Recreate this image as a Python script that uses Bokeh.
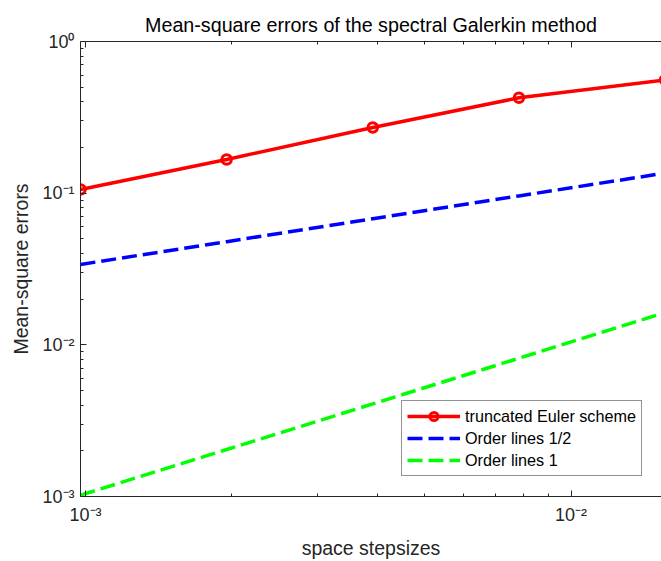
from bokeh.plotting import figure
from bokeh.models import Range1d, LogAxis, FixedTicker, CustomJSTickFormatter, Legend, LegendItem
from bokeh.embed import file_html
from bokeh.resources import INLINE

# ---- data ----
h = [0.0009765625, 0.001953125, 0.00390625, 0.0078125, 0.015625]   # space stepsizes
err_euler = [0.1057, 0.1667, 0.271, 0.4255, 0.558]                 # truncated Euler scheme
order_half = [0.0339, 0.0479, 0.0678, 0.0959, 0.1356]              # order lines 1/2
order_one = [0.00102, 0.00204, 0.00408, 0.00816, 0.01632]          # order lines 1

x_major = [0.001, 0.01]
y_major = [0.001, 0.01, 0.1, 1.0]
x_start, x_end = 0.0009765625, 0.01536
y_start, y_end = 0.001, 1.0

title_text = "Mean-square errors of the spectral Galerkin method"
xlabel = "space stepsizes"
ylabel = "Mean-square errors"
labels = ["truncated Euler scheme", "Order lines 1/2", "Order lines 1"]

FONT = "Liberation Sans"
AX = "#262626"

def minors(majors):
    return [m * d for d in majors for m in range(2, 10)] + [m * majors[0] / 10 for m in range(2, 10)]

p = figure(width=661, height=561, x_axis_type="log", y_axis_type="log",
           x_range=Range1d(x_start, x_end), y_range=Range1d(y_start, y_end),
           output_backend="svg", toolbar_location=None,
           min_border_left=80, min_border_right=0, min_border_top=41, min_border_bottom=65)

p.title.text = title_text
p.title.align = "center"
p.title.text_font = FONT
p.title.text_font_size = "19.7px"
p.title.text_font_style = "normal"
p.title.text_color = "#000000"
p.title.text_line_height = 0.8
p.title.standoff = 11

p.outline_line_color = None
p.xgrid.grid_line_color = None
p.ygrid.grid_line_color = None
p.background_fill_color = "white"
p.border_fill_color = "white"

fmt_code = """
const e = Math.round(Math.log10(tick));
const sup = {'-':'\u207b','0':'\u2070','1':'\u00b9','2':'\u00b2','3':'\u00b3','4':'\u2074','5':'\u2075','6':'\u2076','7':'\u2077','8':'\u2078','9':'\u2079'};
return '10' + String(e).split('').map(c => sup[c]).join('');
"""

def style_axis(ax, majors):
    ax.ticker = FixedTicker(ticks=majors, minor_ticks=minors(majors))
    ax.major_tick_in = 6
    ax.major_tick_out = 0
    ax.minor_tick_in = 3
    ax.minor_tick_out = 0
    ax.axis_line_color = AX
    ax.major_tick_line_color = AX
    ax.minor_tick_line_color = AX

style_axis(p.xaxis[0], x_major)
style_axis(p.yaxis[0], y_major)
for ax in (p.xaxis[0], p.yaxis[0]):
    ax.formatter = CustomJSTickFormatter(code=fmt_code)
    ax.major_label_text_font = FONT
    ax.major_label_text_font_size = "18px"
    ax.major_label_text_color = AX
    ax.axis_label_text_font = FONT
    ax.axis_label_text_font_size = "19.5px"
    ax.axis_label_text_font_style = "normal"
    ax.axis_label_text_color = AX
p.xaxis.axis_label = xlabel
p.yaxis.axis_label = ylabel
p.xaxis.major_label_standoff = 8
p.yaxis.major_label_standoff = 6
p.xaxis.axis_label_standoff = 9
p.yaxis.axis_label_standoff = 7

top = LogAxis()
style_axis(top, x_major)
top.major_label_text_color = None
top.major_label_text_font_size = "1px"
top.major_label_standoff = 0
p.add_layout(top, "above")

r1 = p.line(h, err_euler, line_color="#ff0000", line_width=3.5)
r1m = p.scatter(h, err_euler, marker="circle", size=9.5, fill_color=None,
                line_color="#ff0000", line_width=3)
r2 = p.line(h, order_half, line_color="#0000ff", line_width=3.5, line_dash="15 6")
r3 = p.line(h, order_one, line_color="#00ff00", line_width=3.5, line_dash="15 6")

legend = Legend(items=[LegendItem(label=labels[0], renderers=[r1, r1m]),
                       LegendItem(label=labels[1], renderers=[r2]),
                       LegendItem(label=labels[2], renderers=[r3])],
                location=(321, 20))
legend.label_text_font = FONT
legend.label_text_font_size = "16.2px"
legend.label_text_color = "#000000"
legend.glyph_width = 53
legend.glyph_height = 20
legend.label_height = 20
legend.label_standoff = 5
legend.spacing = 2
legend.padding = 5
legend.margin = 0
legend.border_line_color = AX
legend.border_line_width = 1
legend.background_fill_color = "white"
legend.background_fill_alpha = 1
p.add_layout(legend, "center")

open("out.html", "w", encoding="utf-8").write(file_html(p, INLINE))
